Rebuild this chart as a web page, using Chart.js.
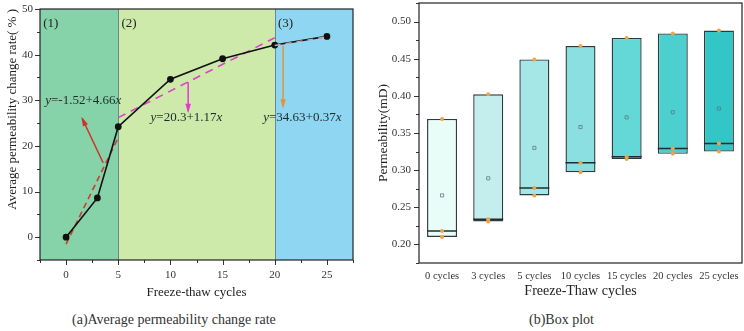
<!DOCTYPE html>
<html>
<head>
<meta charset="utf-8">
<script src="https://cdn.jsdelivr.net/npm/chart.js@4"></script>
<style>
body{margin:0;background:#fff;width:744px;height:331px;overflow:hidden;position:relative;font-family:"Liberation Serif",serif;color:#333}
.box{position:absolute;top:0;width:372px;height:300px}
.cap{position:absolute;top:312px;font-size:14px;white-space:nowrap}
</style>
</head>
<body>
<div class="box" style="left:0"><canvas id="rate"></canvas></div>
<div class="box" style="left:372px"><canvas id="perm"></canvas></div>
<div class="cap" style="left:72px">(a)Average permeability change rate</div>
<div class="cap" style="left:529px">(b)Box plot</div>
<script>
// (a) average permeability change rate
const cycles = [0, 3, 5, 10, 15, 20, 25]
const rateChange = [0, 8.6, 24.2, 34.6, 39.1, 42.1, 44.0]
const fit1X = [0, 5], fit1Y = [-1.5, 21.8]
const fit2X = [5, 20], fit2Y = [26.2, 43.7]
const fit3X = [20, 25], fit3Y = [42.0, 43.9]
const stageEdges = [-2.5, 5, 20, 27.5]
const stageNames = ['(1)', '(2)', '(3)']
const equations = ['-1.52+4.66', '20.3+1.17', '34.63+0.37']

// (b) box plot, three samples per group
const groups = ['0 cycles','3 cycles','5 cycles','10 cycles','15 cycles','20 cycles','25 cycles']
const sampleLow = [0.210, 0.231, 0.266, 0.297, 0.315, 0.322, 0.325]
const sampleMid = [0.218, 0.234, 0.276, 0.310, 0.318, 0.329, 0.336]
const sampleHigh = [0.369, 0.402, 0.449, 0.467, 0.478, 0.484, 0.488]
const sampleMean = [0.266, 0.289, 0.330, 0.358, 0.371, 0.378, 0.383]

const FONT = '"Liberation Serif", "DejaVu Serif", serif'
const INK = '#333'
const pts = (xs, ys) => xs.map((x, i) => ({x, y: ys[i]}))

// fixed axis boxes, no auto label padding
const fixX = h => s => { s.height = h; s.paddingLeft = 0; s.paddingRight = 0; s.paddingTop = 0; s.paddingBottom = 0 }
const fixY = w => s => { s.width = w; s.paddingLeft = 0; s.paddingRight = 0; s.paddingTop = 0; s.paddingBottom = 0 }

// short minor ticks, longer major ticks, and the frame
const tickMarks = {
  id: 'tickMarks',
  afterDraw(c) {
    const ctx = c.ctx
    ctx.save(); ctx.strokeStyle = INK; ctx.lineWidth = 1
    for (const id of ['x', 'y']) {
      const s = c.scales[id]
      if (s.type === 'category') continue
      s.ticks.forEach(t => {
        const len = t.label === '' ? 3 : 5
        const p = Math.round(s.getPixelForValue(t.value)) + 0.5
        ctx.beginPath()
        if (id === 'x') { ctx.moveTo(p, s.top); ctx.lineTo(p, s.top + len) }
        else { ctx.moveTo(s.right, p); ctx.lineTo(s.right - len, p) }
        ctx.stroke()
      })
    }
    const a = c.chartArea
    ctx.strokeStyle = '#222'; ctx.lineWidth = 1.2
    ctx.strokeRect(a.left, a.top, a.right - a.left, a.bottom - a.top)
    ctx.restore()
  }
}

const stageColors = ['#86d3aa', '#cdeaaa', '#8fd6f2']
const stages = {
  id: 'stages',
  beforeDatasetsDraw(c) {
    const ctx = c.ctx, x = c.scales.x, a = c.chartArea
    ctx.save()
    for (let i = 0; i < 3; i++) {
      const l = x.getPixelForValue(stageEdges[i]), r = x.getPixelForValue(stageEdges[i + 1])
      ctx.fillStyle = stageColors[i]
      ctx.fillRect(l, a.top, r - l, a.bottom - a.top)
    }
    ctx.strokeStyle = '#6a8a80'; ctx.lineWidth = 1
    for (const e of [5, 20]) {
      const p = Math.round(x.getPixelForValue(e)) + 0.5
      ctx.beginPath(); ctx.moveTo(p, a.top); ctx.lineTo(p, a.bottom); ctx.stroke()
    }
    ctx.restore()
  }
}

function arrow(ctx, x1, y1, x2, y2, color) {
  ctx.strokeStyle = color; ctx.fillStyle = color; ctx.lineWidth = 1.5
  ctx.beginPath(); ctx.moveTo(x1, y1); ctx.lineTo(x2, y2); ctx.stroke()
  const ang = Math.atan2(y2 - y1, x2 - x1), h = 8
  ctx.beginPath()
  ctx.moveTo(x2 + Math.cos(ang) * 2, y2 + Math.sin(ang) * 2)
  ctx.lineTo(x2 - h * Math.cos(ang - 0.35), y2 - h * Math.sin(ang - 0.35))
  ctx.lineTo(x2 - h * Math.cos(ang + 0.35), y2 - h * Math.sin(ang + 0.35))
  ctx.closePath(); ctx.fill()
}

function equation(ctx, x, y, body) {
  let cx = x
  for (const [t, it] of [['y', true], ['=' + body, false], ['x', true]]) {
    ctx.font = (it ? 'italic ' : '') + '13px ' + FONT
    ctx.fillText(t, cx, y)
    cx += ctx.measureText(t).width
  }
}

const notes = {
  id: 'notes',
  afterDatasetsDraw(c) {
    const ctx = c.ctx, X = v => c.scales.x.getPixelForValue(v), Y = v => c.scales.y.getPixelForValue(v)
    ctx.save()
    ctx.textBaseline = 'middle'; ctx.fillStyle = '#222'
    ctx.font = '13px ' + FONT
    ;[-2.2, 5.3, 20.3].forEach((v, i) => ctx.fillText(stageNames[i], X(v), Y(46.8)))
    ctx.fillStyle = '#1d2a2a'
    equation(ctx, X(-2.0), Y(30.0), equations[0])
    equation(ctx, X(8.1), Y(26.1), equations[1])
    equation(ctx, X(18.9), Y(26.1), equations[2])
    arrow(ctx, X(3.55), Y(16.3), X(1.55), Y(26.0), '#d0302a')
    arrow(ctx, X(11.7), Y(34.0), X(11.7), Y(27.6), '#e03ad0')
    arrow(ctx, X(20.8), Y(42.0), X(20.8), Y(28.6), '#e0963a')
    ctx.restore()
  }
}

new Chart(document.getElementById('rate'), {
  type: 'scatter',
  data: {
    datasets: [
      {data: pts(fit1X, fit1Y), showLine: true, borderColor: '#d03a30', borderWidth: 1.6, borderDash: [6, 4], pointRadius: 0, order: 3},
      {data: pts(fit2X, fit2Y), showLine: true, borderColor: '#e040c8', borderWidth: 1.6, borderDash: [8, 6], pointRadius: 0, order: 3},
      {data: pts(cycles, rateChange), showLine: true, borderColor: '#111', borderWidth: 1.6,
        pointRadius: 2.6, pointBackgroundColor: '#111', pointBorderColor: '#111', order: 2},
      {data: pts(fit3X, fit3Y), showLine: true, borderColor: '#c8a8b8', borderWidth: 1.4, borderDash: [6, 5], pointRadius: 0, order: 1}
    ]
  },
  options: {
    responsive: true, maintainAspectRatio: false, animation: false,
    layout: {autoPadding: false, padding: {top: 9, right: 19, left: 0, bottom: 0}},
    plugins: {legend: {display: false}, tooltip: {enabled: false}},
    scales: {
      x: {
        type: 'linear', min: -2.5, max: 27.5,
        afterFit: fixX(40),
        grid: {display: false, drawTicks: false}, border: {display: false},
        ticks: {stepSize: 2.5, autoSkip: false, maxRotation: 0, padding: 9, color: INK,
          font: {family: FONT, size: 11}, callback: v => v % 5 === 0 ? v : ''},
        title: {display: true, text: 'Freeze-thaw cycles', color: '#222', padding: 0,
          font: {family: FONT, size: 13}}
      },
      y: {
        min: -5, max: 50,
        afterFit: fixY(40),
        grid: {display: false, drawTicks: false}, border: {display: false},
        ticks: {stepSize: 5, autoSkip: false, padding: 7, color: INK,
          font: {family: FONT, size: 11}, callback: v => v % 10 === 0 ? v : ''},
        title: {display: true, text: 'Average permeability change rate( % )', color: '#222', align: 'end',
          padding: {top: 5, bottom: 0}, font: {family: FONT, size: 13}}
      }
    }
  },
  plugins: [stages, notes, tickMarks]
})

const boxColors = ['#e8fdf7', '#c4eeee', '#a5e6e6', '#8cdfe0', '#64d7d7', '#4bcfcf', '#33c6c6']

new Chart(document.getElementById('perm'), {
  type: 'bar',
  data: {
    labels: groups,
    datasets: [
      {data: sampleLow.map((v, i) => [v, sampleHigh[i]]), backgroundColor: boxColors,
        borderColor: '#2c3c3c', borderWidth: 1.4, borderSkipped: false,
        barPercentage: 0.65, categoryPercentage: 1, order: 5},
      {type: 'line', data: sampleMid, showLine: false, pointStyle: 'line', pointRadius: 15,
        borderColor: '#1f2f2f', borderWidth: 1.5, order: 4},
      {type: 'line', data: sampleMean, showLine: false, pointStyle: 'rect', pointRadius: 2.2,
        pointBackgroundColor: 'rgba(0,0,0,0)', pointBorderColor: '#5a7a88', pointBorderWidth: 0.8, order: 3},
      {type: 'line', data: sampleHigh, showLine: false, pointRadius: 2, pointBackgroundColor: '#f2a24a', pointBorderWidth: 0, order: 2},
      {type: 'line', data: sampleMid, showLine: false, pointRadius: 2, pointBackgroundColor: '#f2a24a', pointBorderWidth: 0, order: 2},
      {type: 'line', data: sampleLow, showLine: false, pointRadius: 2, pointBackgroundColor: '#f2a24a', pointBorderWidth: 0, order: 2}
    ]
  },
  options: {
    responsive: true, maintainAspectRatio: false, animation: false,
    layout: {autoPadding: false, padding: {top: 3, right: 2, left: 0, bottom: 0}},
    plugins: {legend: {display: false}, tooltip: {enabled: false}},
    scales: {
      x: {
        afterFit: fixX(37),
        grid: {display: false, drawTicks: false}, border: {display: false},
        ticks: {autoSkip: false, maxRotation: 0, padding: 7, color: INK, font: {family: FONT, size: 10.5}},
        title: {display: true, text: 'Freeze-Thaw cycles', color: '#222', padding: 0,
          font: {family: FONT, size: 14}}
      },
      y: {
        min: 0.175, max: 0.525,
        afterFit: fixY(47),
        grid: {display: false, drawTicks: false}, border: {display: false},
        ticks: {stepSize: 0.025, autoSkip: false, padding: 8, color: INK, font: {family: FONT, size: 11},
          callback: v => Math.round(v * 1000) % 50 === 0 ? v.toFixed(2) : ''},
        title: {display: true, text: 'Permeability(mD)', color: '#222',
          padding: {top: 3, bottom: 0}, font: {family: FONT, size: 13.5}}
      }
    }
  },
  plugins: [tickMarks]
})
</script>
</body>
</html>
